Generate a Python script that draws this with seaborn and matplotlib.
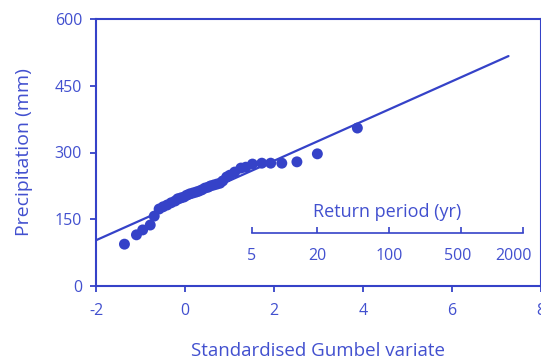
import numpy as np
import pandas as pd
import matplotlib
matplotlib.use("Agg")
import matplotlib.pyplot as plt
import matplotlib.transforms as mtransforms
import seaborn as sns

# Annual maximum precipitation plotted against the standardised Gumbel variate
gumbel_variate = [-1.36, -1.09, -0.95, -0.78, -0.69, -0.58, -0.49, -0.40, -0.31,
                  -0.22, -0.16, -0.09, -0.02, 0.04, 0.11, 0.18, 0.25, 0.31, 0.38,
                  0.45, 0.52, 0.58, 0.65, 0.72, 0.79, 0.85, 0.94, 1.01, 1.12,
                  1.26, 1.37, 1.52, 1.73, 1.93, 2.18, 2.52, 2.98, 3.88]
precipitation = [94, 115, 126, 137, 157, 173, 178, 182, 187,
                 191, 196, 198, 200, 204, 207, 209, 211, 213, 216,
                 220, 222, 225, 227, 229, 231, 236, 245, 249, 256,
                 265, 267, 274, 276, 276, 276, 279, 297, 355]

# Fitted Gumbel distribution: P = location + scale * variate
fit_location = 192.0
fit_scale = 44.6
fit_variate_range = [-2.0, 7.28]

return_periods = [5, 20, 100, 500, 2000]
x_ticks = [-2, 0, 2, 4, 6, 8]
y_ticks = [0, 150, 300, 450, 600]

blue = "#3542c8"
text_blue = "#4250cf"

sns.set_theme(style="white")
plt.rcParams["font.family"] = ["Open Sans", "DejaVu Sans"]

fig = plt.figure(figsize=(5.41, 3.60), dpi=100)
ax = fig.add_axes([96 / 541, 1 - 286 / 360, 444.5 / 541, 267 / 360])

points = pd.DataFrame({"variate": gumbel_variate, "precip": precipitation})
fit = pd.DataFrame({"variate": fit_variate_range})
fit["precip"] = fit_location + fit_scale * fit["variate"]

sns.lineplot(data=fit, x="variate", y="precip", ax=ax, color=blue, lw=1.6)
sns.scatterplot(data=points, x="variate", y="precip", ax=ax, color=blue,
                s=62, edgecolor="none", zorder=3)

ax.set_xlim(-2, 8)
ax.set_ylim(0, 600)
ax.set_xticks(x_ticks)
ax.set_yticks(y_ticks)
ax.set_xticklabels([str(t) for t in x_ticks])
ax.set_yticklabels([str(t) for t in y_ticks])
for sp in ax.spines.values():
    sp.set_color(blue)
    sp.set_linewidth(1.5)
ax.tick_params(axis="both", which="major", direction="out", length=4, width=1.3,
               color=blue, labelcolor=text_blue, labelsize=11.5, pad=6,
               bottom=True, left=True, top=False, right=False)
ax.tick_params(axis="x", pad=8)
ax.set_xlabel("Standardised Gumbel variate", color=text_blue, fontsize=13.5, labelpad=17)
ax.set_ylabel("Precipitation (mm)", color=text_blue, fontsize=14, labelpad=16)


# Return period scale drawn inside the plot
def variate_to_period(y):
    y = np.asarray(y, dtype=float)
    with np.errstate(over="ignore", divide="ignore", invalid="ignore"):
        return 1.0 / (1.0 - np.exp(-np.exp(-y)))


def period_to_variate(t):
    t = np.asarray(t, dtype=float)
    with np.errstate(divide="ignore", invalid="ignore"):
        return -np.log(-np.log(1.0 - 1.0 / t))


sec = ax.secondary_xaxis(0.1985, functions=(variate_to_period, period_to_variate))
sec.set_xticks(return_periods)
sec.set_xticklabels([str(t) for t in return_periods])
sec.spines["bottom"].set_bounds(return_periods[0], return_periods[-1])
sec.spines["bottom"].set_color(blue)
sec.spines["bottom"].set_linewidth(1.2)
sec.tick_params(axis="x", direction="in", length=4, width=1.2, color=blue,
                labelcolor=text_blue, labelsize=11.5, pad=11)
sec.xaxis.set_minor_locator(matplotlib.ticker.NullLocator())

# Nudge the outer return-period labels inwards so they stay inside the frame
shift_left = mtransforms.ScaledTranslation(-9 / 100, 0, fig.dpi_scale_trans)
small_shift = mtransforms.ScaledTranslation(-3 / 100, 0, fig.dpi_scale_trans)
labels = sec.get_xticklabels()
labels[-1].set_transform(labels[-1].get_transform() + shift_left)
labels[-2].set_transform(labels[-2].get_transform() + small_shift)

mid = 0.5 * (period_to_variate(return_periods[0]) + period_to_variate(return_periods[-1]))
ax.text(mid, 166, "Return period (yr)", color=text_blue, fontsize=13,
        ha="center", va="center")

fig.savefig("out.png", dpi=100)
